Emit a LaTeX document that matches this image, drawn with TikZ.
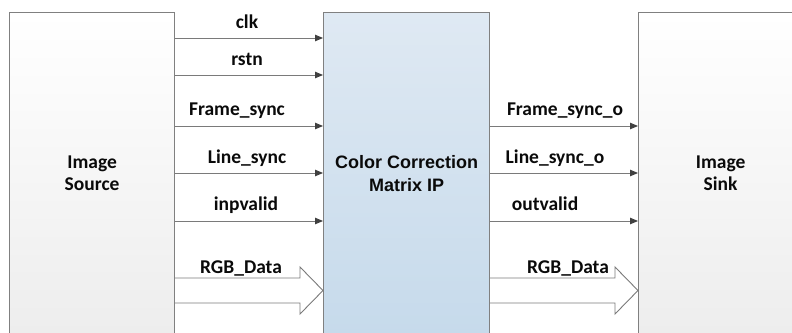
\documentclass[tikz,border=0pt]{standalone}
\usepackage{fontspec}
\setmainfont{Carlito}
\newfontfamily\ccmfont{Liberation Sans}
\usetikzlibrary{arrows.meta,calc}
\definecolor{edge}{HTML}{808080}
\definecolor{wire}{HTML}{7A7A7A}
\definecolor{tip}{HTML}{404040}
\definecolor{ccmtop}{HTML}{DFE9F3}
\definecolor{ccmbot}{HTML}{C6DAEB}
\definecolor{boxbot}{HTML}{EDEDED}
\definecolor{ink}{HTML}{0A0A0A}
\begin{document}
\begin{tikzpicture}[x=1pt,y=-1pt,
  block/.style={draw=edge,line width=1.2pt,anchor=north west,inner sep=0pt,
    minimum height=322pt,align=center,text=ink},
  sig/.style={draw=wire,line width=0.9pt,
    -{Triangle[length=8pt,width=6.5pt,fill=tip,color=tip]}},
  bus/.style={draw=wire,line width=0.9pt,fill=white,line join=miter},
  lbl/.style={font=\bfseries\fontsize{19.5}{22}\selectfont,anchor=base,
    inner sep=0pt,text=ink},
  ttl/.style={font=\bfseries\fontsize{19.5}{22}\selectfont},
]
\useasboundingbox (0,0) rectangle (792,332);
\clip (0,0) rectangle (792,332);

% the three blocks (their lower edges run past the picture)
\node[block,ttl,minimum width=165pt,top color=white,bottom color=boxbot]
  (src) at (9,12) {Image\\Source};
\node[block,minimum width=166pt,top color=ccmtop,bottom color=ccmbot,
  font={\ccmfont\bfseries\fontsize{18}{23}\selectfont}]
  (ccm) at (323,12) {Color Correction\\Matrix IP};
\node[block,ttl,minimum width=164pt,top color=white,bottom color=boxbot]
  (snk) at (638,12) {Image\\Sink};

% signal rows
\coordinate (yclk)  at (0,38);
\coordinate (yrst)  at (0,75);
\coordinate (yfrm)  at (0,126);
\coordinate (ylin)  at (0,173);
\coordinate (yval)  at (0,221);
\coordinate (yrgb)  at (0,290.5);

% inputs
\draw[sig] (src.east |- yclk) -- (ccm.west |- yclk);
\draw[sig] (src.east |- yrst) -- (ccm.west |- yrst);
\draw[sig] (src.east |- yfrm) -- (ccm.west |- yfrm);
\draw[sig] (src.east |- ylin) -- (ccm.west |- ylin);
\draw[sig] (src.east |- yval) -- (ccm.west |- yval);

\node[lbl] (lclk) at (247,28)  {clk};
\node[lbl] (lrst) at (247,65)  {rstn};
\node[lbl] (lfrm) at (237,115) {Frame\_sync};
\node[lbl] (llin) at (247,163) {Line\_sync};
\node[lbl] (lval) at (246,210) {inpvalid};
\node[lbl] (lrgbi) at (241,273) {RGB\_Data};

% outputs
\draw[sig] (ccm.east |- yfrm) -- (snk.west |- yfrm);
\draw[sig] (ccm.east |- ylin) -- (snk.west |- ylin);
\draw[sig] (ccm.east |- yval) -- (snk.west |- yval);

\node[lbl] (lfrmo) at (565,115) {Frame\_sync\_o};
\node[lbl] (llino) at (555,163) {Line\_sync\_o};
\node[lbl] (lvalo) at (545,210) {outvalid};
\node[lbl] (lrgbo) at (568,273) {RGB\_Data};

% wide data buses
\draw[bus] ($(src.east |- yrgb)+(0,-12.5)$) -- ($(ccm.west |- yrgb)+(-23,-12.5)$)
  -- ++(0,-11) -- (ccm.west |- yrgb) -- ($(ccm.west |- yrgb)+(-23,23.5)$)
  -- ++(0,-11) -- ($(src.east |- yrgb)+(0,12.5)$);
\draw[bus] ($(ccm.east |- yrgb)+(0,-12.5)$) -- ($(snk.west |- yrgb)+(-23,-12.5)$)
  -- ++(0,-11) -- (snk.west |- yrgb) -- ($(snk.west |- yrgb)+(-23,23.5)$)
  -- ++(0,-11) -- ($(ccm.east |- yrgb)+(0,12.5)$);
\end{tikzpicture}
\end{document}
